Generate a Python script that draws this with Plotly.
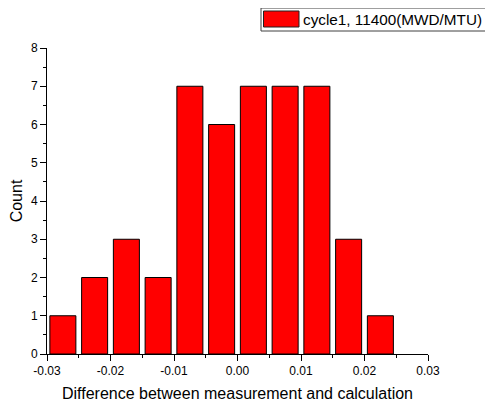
import plotly.graph_objects as go

bin_centers = [-0.0275, -0.0225, -0.0175, -0.0125, -0.0075, -0.0025, 0.0025, 0.0075, 0.0125, 0.0175, 0.0225]
counts = [1, 2, 3, 2, 7, 6, 7, 7, 7, 3, 1]
series_name = "cycle1, 11400(MWD/MTU)"
x_tick_vals = [-0.03, -0.02, -0.01, 0.0, 0.01, 0.02, 0.03]
x_tick_text = ["-0.03", "-0.02", "-0.01", "0.00", "0.01", "0.02", "0.03"]
bar_color = "#ff0000"

OFF = 8  # page body margin
W, H = 493 - OFF, 405 - OFF
L, R, T, B = 47 - OFF, 65, 48 - OFF, 51
pw, ph = W - L - R, H - T - B

def px2x(px):
    return (px - OFF - L) / pw

def px2y(py):
    return (H - B - (py - OFF)) / ph

fig = go.Figure()
fig.add_trace(go.Bar(
    x=bin_centers, y=counts, width=0.0041, name=series_name,
    marker=dict(color=bar_color, line=dict(color="black", width=1)),
    showlegend=False,
))

font = "Liberation Sans, Arial, sans-serif"

shapes = [
    dict(type="rect", xref="paper", yref="paper",
         x0=px2x(261), x1=px2x(500), y0=px2y(31), y1=px2y(8),
         line=dict(color="#404040", width=1), fillcolor="white", layer="above"),
    dict(type="rect", xref="paper", yref="paper",
         x0=px2x(263.5), x1=px2x(299), y0=px2y(27), y1=px2y(11),
         line=dict(color="#202020", width=1), fillcolor=bar_color, layer="above"),
]
annotations = [
    dict(text=series_name, xref="paper", yref="paper", x=px2x(301), y=px2y(19.5),
         xanchor="left", yanchor="middle", showarrow=False,
         font=dict(family=font, size=15.3, color="black")),
]

fig.update_layout(
    width=W, height=H,
    margin=dict(l=L, r=R, t=T, b=B, autoexpand=False),
    paper_bgcolor="white", plot_bgcolor="white",
    font=dict(family=font, size=12, color="black"),
    showlegend=False,
    shapes=shapes, annotations=annotations,
    xaxis=dict(range=[-0.03, 0.03], tickvals=x_tick_vals, ticktext=x_tick_text,
               showgrid=False, zeroline=False, showline=True, linecolor="black", linewidth=1,
               ticks="outside", ticklen=6, tickcolor="black", automargin=False,
               tickfont=dict(size=12),
               minor=dict(ticks="outside", tickvals=[-0.025, -0.015, -0.005, 0.005, 0.015, 0.025],
                          ticklen=3, tickcolor="black", showgrid=False),
               title=dict(text="Difference between measurement and calculation", font=dict(size=16), standoff=10)),
    yaxis=dict(range=[0, 8], dtick=1, showgrid=False, zeroline=False, showline=True,
               linecolor="black", linewidth=1, automargin=False,
               ticks="outside", ticklen=6, tickcolor="black",
               tickfont=dict(size=12),
               minor=dict(ticks="outside", dtick=0.5, ticklen=3, tickcolor="black", showgrid=False),
               title=dict(text="Count", font=dict(size=16), standoff=8)),
)

fig.write_html("out.html")
